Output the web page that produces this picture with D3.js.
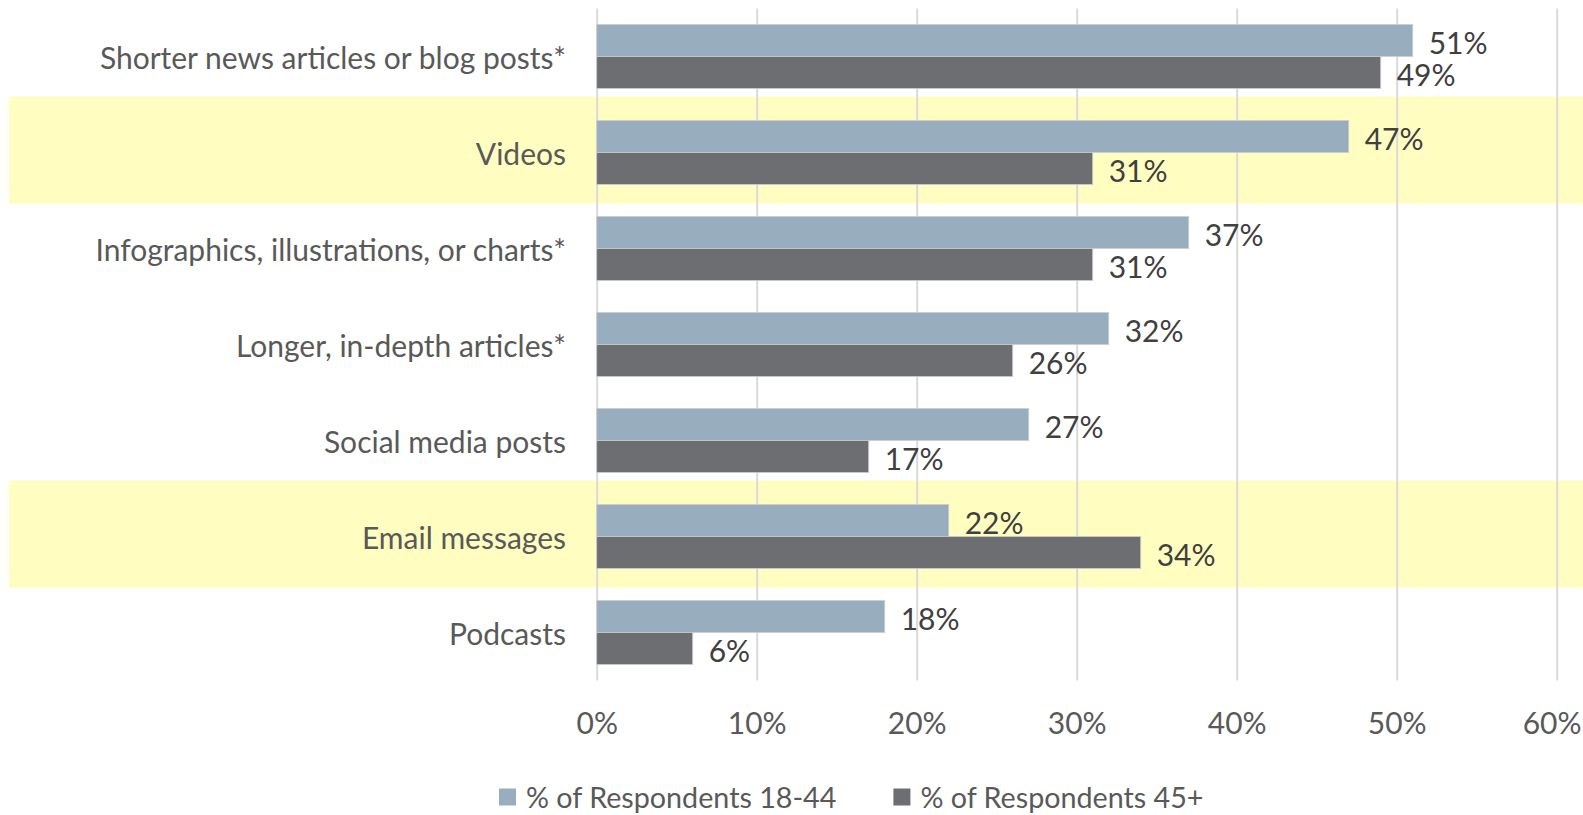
<!DOCTYPE html>
<html>
<head>
<meta charset="utf-8">
<script src="https://cdn.jsdelivr.net/npm/d3@7"></script>
<style>
  html, body { margin: 0; padding: 0; background: #ffffff; }
  svg { display: block; }
  text { font-family: Lato, "Open Sans", "Noto Sans", sans-serif; }
</style>
</head>
<body>
<svg id="chart" width="1583" height="815"></svg>
<script>
// Content formats people prefer, by age group (percent of respondents)
const categories = [
  "Shorter news articles or blog posts*",
  "Videos",
  "Infographics, illustrations, or charts*",
  "Longer, in-depth articles*",
  "Social media posts",
  "Email messages",
  "Podcasts"
];
const respondents18to44 = [51, 47, 37, 32, 27, 22, 18];
const respondents45plus = [49, 31, 31, 26, 17, 34, 6];
const seriesNames = ["% of Respondents 18-44", "% of Respondents 45+"];
const highlightedCategories = ["Videos", "Email messages"];
const xTickValues = [0, 10, 20, 30, 40, 50, 60];

const seriesColors = ["#98AEBE", "#6D6E72"];
const textColor = "#595959";
const valueColor = "#404040";
const fontSize = 30;
const legendFontSize = 28.7;

const svg = d3.select("#chart");
const W = 1583;

const plot = { left: 596.7, right: 1556.7, top: 8.5, bottom: 680.5 };

const x = d3.scaleLinear().domain([0, 60]).range([plot.left, plot.right]);
const y = d3.scaleBand().domain(categories)
  .range([plot.top, plot.bottom])
  .paddingInner(1 / 3).paddingOuter(1 / 6);
const ySub = d3.scaleBand().domain(seriesNames).range([0, y.bandwidth()]);

const rows = categories.map((c, i) => ({
  category: c,
  values: [
    { series: seriesNames[0], value: respondents18to44[i], color: seriesColors[0] },
    { series: seriesNames[1], value: respondents45plus[i], color: seriesColors[1] }
  ]
}));

// highlight bands behind selected categories
svg.append("g").selectAll("rect")
  .data(highlightedCategories)
  .join("rect")
  .attr("x", 9)
  .attr("width", W - 9)
  .attr("y", d => y(d) + y.bandwidth() / 2 - 56)
  .attr("height", 107)
  .attr("fill", "#FFFEC0");

// vertical gridlines
const grid = svg.append("g")
  .attr("transform", `translate(0,${plot.bottom})`)
  .call(d3.axisBottom(x).tickValues(xTickValues).tickSize(-(plot.bottom - plot.top)).tickFormat(""));
grid.select(".domain").remove();
grid.selectAll("line").attr("stroke", "#D9D9D9").attr("stroke-width", 2);

// bars
const groups = svg.append("g").selectAll("g")
  .data(rows)
  .join("g")
  .attr("transform", d => `translate(0,${y(d.category)})`);

groups.selectAll("rect")
  .data(d => d.values)
  .join("rect")
  .attr("x", x(0))
  .attr("y", d => ySub(d.series))
  .attr("width", d => x(d.value) - x(0))
  .attr("height", ySub.bandwidth())
  .attr("fill", d => d.color)
  .attr("stroke", "#C9CED3")
  .attr("stroke-width", 0.8);

// value labels
groups.selectAll("text")
  .data(d => d.values)
  .join("text")
  .attr("x", d => x(d.value) + 16)
  .attr("y", d => ySub(d.series) + ySub.bandwidth() / 2 + 1)
  .attr("dominant-baseline", "central")
  .attr("font-size", fontSize)
  .attr("fill", valueColor)
  .text(d => d.value + "%");

// category labels
svg.append("g").selectAll("text")
  .data(categories)
  .join("text")
  .attr("x", 566)
  .attr("y", d => y(d) + y.bandwidth() / 2)
  .attr("text-anchor", "end")
  .attr("dominant-baseline", "central")
  .attr("font-size", fontSize)
  .attr("fill", textColor)
  .text(d => d);

// x axis labels
const xAxis = svg.append("g")
  .attr("transform", `translate(0,${plot.bottom})`)
  .call(d3.axisBottom(x).tickValues(xTickValues).tickSize(0).tickPadding(0).tickFormat(d => d + "%"));
xAxis.select(".domain").remove();
xAxis.selectAll("text")
  .attr("y", 41)
  .attr("dy", null)
  .attr("dominant-baseline", "central")
  .attr("font-size", fontSize)
  .attr("font-family", "Lato, 'Open Sans', sans-serif")
  .attr("fill", textColor)
  .each(function (d) {
    // keep the outermost label inside the canvas
    const half = this.getComputedTextLength() / 2;
    const overflow = x(d) + half - (W - 2);
    if (overflow > 0) d3.select(this).attr("x", -overflow);
  });

// legend
const legend = svg.append("g").attr("transform", "translate(499,797)");
let cursor = 0;
seriesNames.forEach((name, i) => {
  const item = legend.append("g").attr("transform", `translate(${cursor},0)`);
  item.append("rect")
    .attr("x", 0).attr("y", -8.5)
    .attr("width", 17).attr("height", 17)
    .attr("fill", seriesColors[i]);
  const t = item.append("text")
    .attr("x", 27)
    .attr("dominant-baseline", "central")
    .attr("font-size", legendFontSize)
    .attr("fill", textColor)
    .text(name);
  cursor += 27 + t.node().getComputedTextLength() + 57;
});
</script>
</body>
</html>
